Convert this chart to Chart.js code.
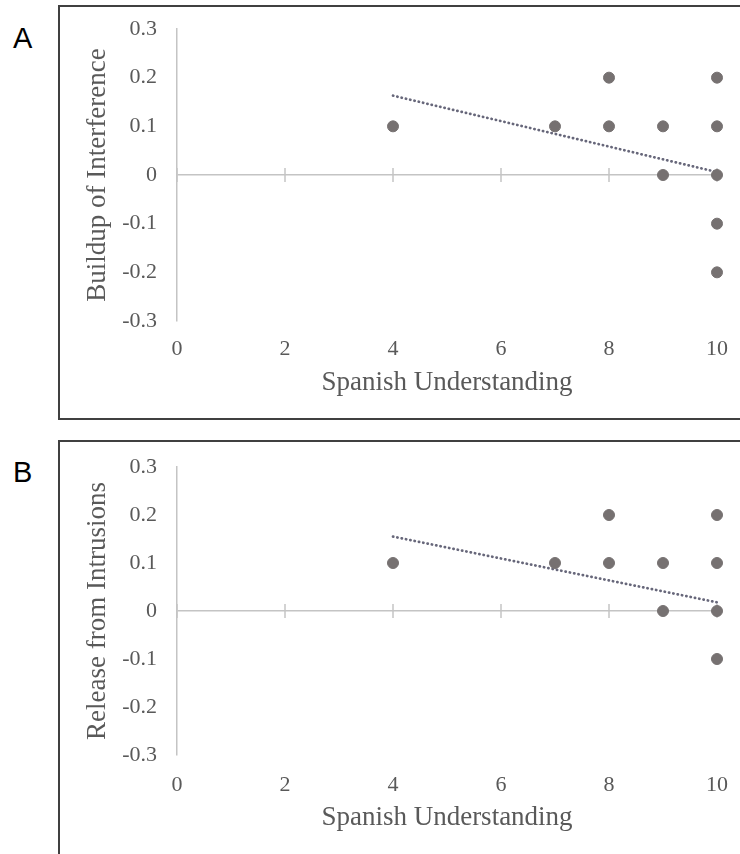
<!DOCTYPE html>
<html>
<head>
<meta charset="utf-8">
<script src="https://cdn.jsdelivr.net/npm/chart.js@4/dist/chart.umd.min.js"></script>
<style>
  html, body { margin: 0; padding: 0; background: #fff; }
  body { width: 740px; height: 854px; position: relative; overflow: hidden; }
  .panel { position: absolute; left: 58px; width: 700px; border: 2px solid #404040; border-right: none; box-sizing: border-box; }
  .tag { position: absolute; left: 13px; font: 29px/29px "Liberation Sans", Arial, sans-serif; color: #000; }
  canvas { position: absolute; left: 60px; }
</style>
</head>
<body>

<div class="panel" style="top:5px; height:415px;"></div>
<div class="panel" style="top:440px; height:440px;"></div>
<div class="tag" style="top:24px;">A</div>
<div class="tag" style="top:458px;">B</div>

<canvas id="chartA" width="680" height="410" style="top:8px;"></canvas>
<canvas id="chartB" width="680" height="411" style="top:443px;"></canvas>

<script>
// data
const understandingA = [4, 7, 8, 8, 9, 9, 10, 10, 10, 10, 10];
const buildupA = [0.1, 0.1, 0.2, 0.1, 0.1, 0, 0.2, 0.1, 0, -0.1, -0.2];

const understandingB = [4, 7, 8, 8, 9, 9, 10, 10, 10, 10];
const releaseB = [0.1, 0.1, 0.2, 0.1, 0.1, 0, 0.2, 0.1, 0, -0.1];

// trendline end points
const trendX = [4, 10];
const trendA = [0.163, 0.006];
const trendB = [0.155, 0.018];

const xTitle = "Spanish Understanding";
const yTitleA = "Buildup of Interference";
const yTitleB = "Release from Intrusions";

const pointGray = "#767171";
const trendGray = "#67677a";
const axisGray = "#c4c4c4";
const textGray = "#595959";
const clear = "rgba(0,0,0,0)";
const serif = "'Liberation Serif', 'Times New Roman', serif";

// short tick marks crossing the zero line
const zeroTicks = {
    id: "zeroTicks",
    beforeDatasetsDraw(chart) {
        const xs = chart.scales.x;
        const y0 = chart.scales.y.getPixelForValue(0);
        const ctx = chart.ctx;
        ctx.save();
        ctx.strokeStyle = axisGray;
        ctx.lineWidth = 1.5;
        xs.ticks.forEach(function (t) {
            const px = xs.getPixelForValue(t.value);
            ctx.beginPath();
            ctx.moveTo(px, y0 - 7);
            ctx.lineTo(px, y0 + 7);
            ctx.stroke();
        });
        ctx.restore();
    }
};

function makeChart(id, xs, ys, trend, yTitle, dims) {
    const canvas = document.getElementById(id);
    if (!canvas) {
        console.log(id + " NOT found");
        return;
    }
    const pts = xs.map(function (x, i) { return { x: x, y: ys[i] }; });
    const line = trendX.map(function (x, i) { return { x: x, y: trend[i] }; });

    new Chart(canvas.getContext("2d"), {
        type: "scatter",
        data: {
            datasets: [
                {
                    data: line,
                    showLine: true,
                    borderColor: trendGray,
                    borderWidth: 2.7,
                    borderDash: [0.3, 4.1],
                    borderCapStyle: "round",
                    pointRadius: 0,
                    clip: false,
                    order: 2
                },
                {
                    data: pts,
                    backgroundColor: pointGray,
                    borderColor: pointGray,
                    pointRadius: 5.5,
                    clip: false,
                    order: 1
                }
            ]
        },
        options: {
            responsive: false,
            animation: false,
            layout: { padding: { top: dims.top, right: 23, left: 0, bottom: 0 } },
            plugins: { legend: { display: false }, tooltip: { enabled: false } },
            scales: {
                x: {
                    type: "linear",
                    min: 0,
                    max: 10,
                    ticks: { stepSize: 2, color: textGray, padding: 0, font: { family: serif, size: 22 } },
                    grid: { display: true, drawOnChartArea: false, drawTicks: true, tickLength: dims.tickGap, color: clear, tickColor: clear },
                    border: { display: false },
                    title: {
                        display: true,
                        text: xTitle,
                        color: textGray,
                        font: { family: serif, size: 27 },
                        padding: { top: 0, bottom: dims.titlePad }
                    },
                    afterFit: function (s) { s.height = dims.xHeight; }
                },
                y: {
                    type: "linear",
                    min: -0.3,
                    max: 0.3,
                    ticks: {
                        stepSize: 0.1,
                        color: textGray,
                        padding: 0,
                        font: { family: serif, size: 22 },
                        callback: function (v) { return String(Math.round(v * 10) / 10); }
                    },
                    grid: {
                        drawTicks: true,
                        tickLength: 20,
                        tickColor: clear,
                        lineWidth: 1.5,
                        color: function (c) {
                            return c.tick && Math.abs(c.tick.value) < 1e-9 ? axisGray : clear;
                        }
                    },
                    border: { display: true, color: axisGray, width: 1.5 },
                    title: {
                        display: true,
                        text: yTitle,
                        color: textGray,
                        font: { family: serif, size: 27 },
                        padding: { top: 22, bottom: 0 }
                    },
                    afterFit: function (s) { s.width = 117; }
                }
            }
        },
        plugins: [zeroTicks]
    });
}

document.addEventListener("DOMContentLoaded", function () {
    makeChart("chartA", understandingA, buildupA, trendA, yTitleA, { top: 21, xHeight: 97, titlePad: 19, tickGap: 15 });
    makeChart("chartB", understandingB, releaseB, trendB, yTitleB, { top: 24, xHeight: 99, titlePad: 20, tickGap: 17 });
});
</script>
</body>
</html>
